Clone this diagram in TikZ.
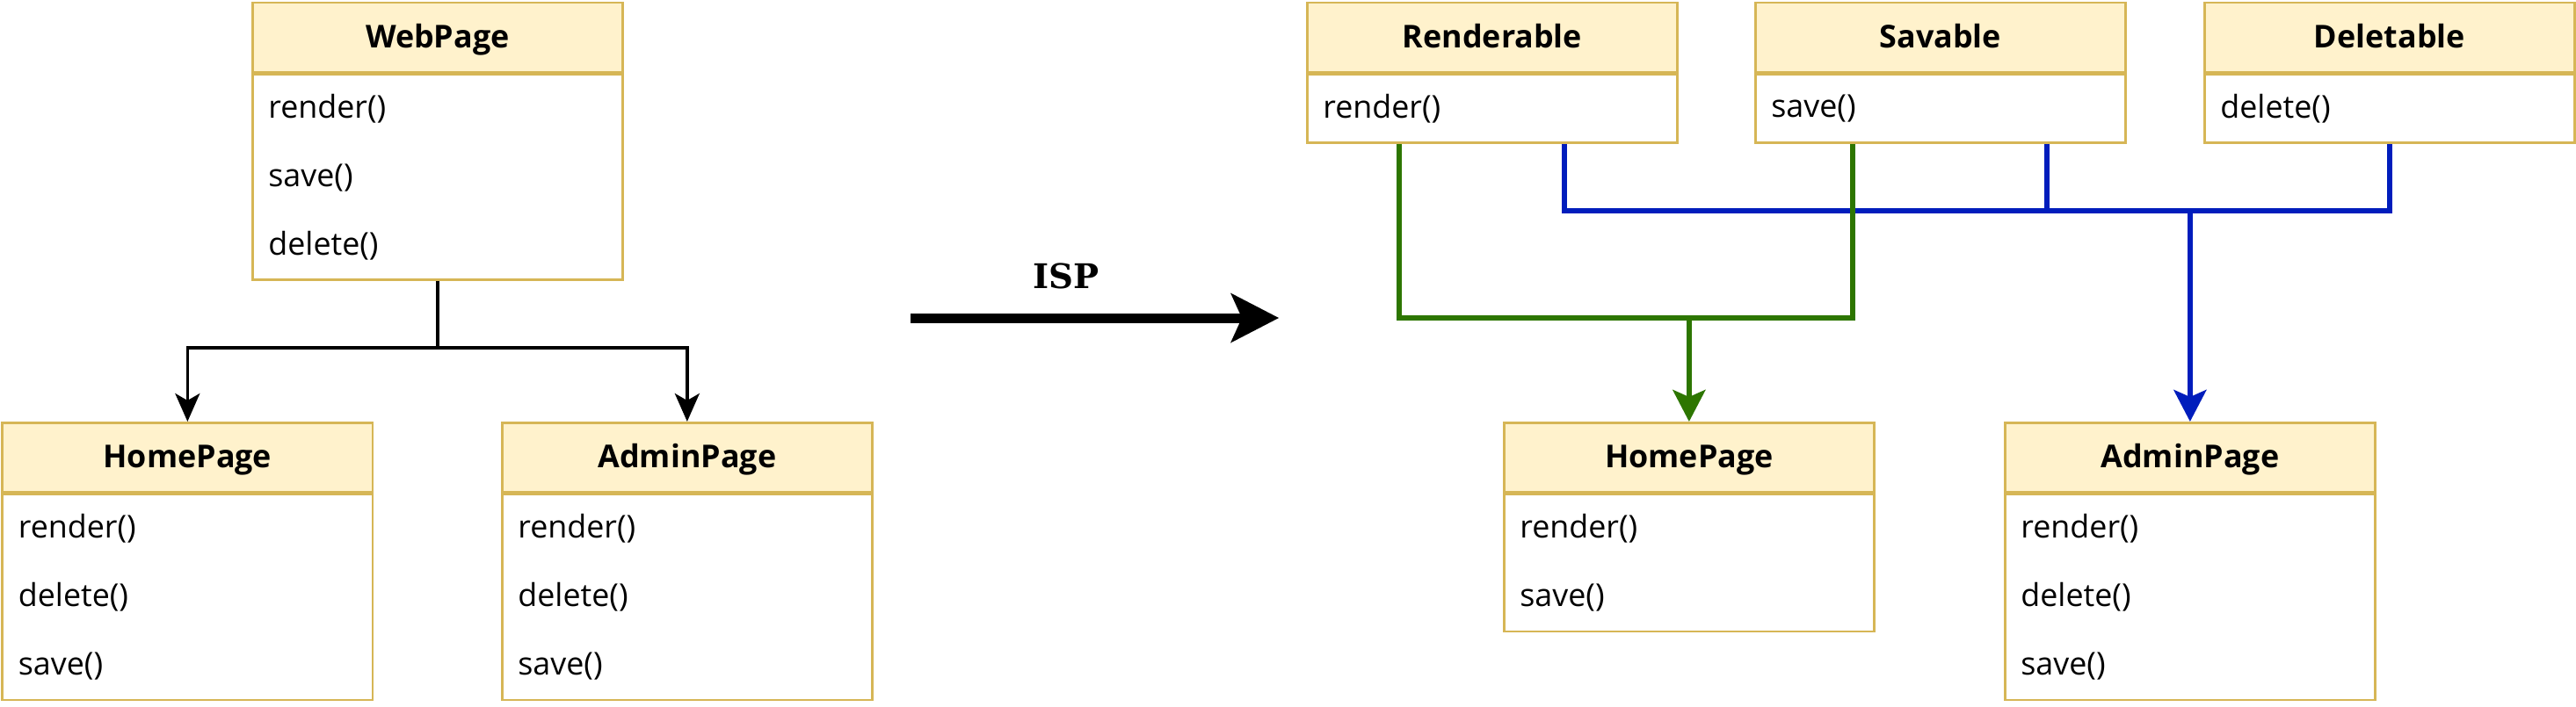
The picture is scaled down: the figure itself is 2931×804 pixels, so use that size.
\documentclass[tikz,border=0pt]{standalone}
\usepackage{fontspec}
\setmainfont{Open Sans}
\newfontfamily\ispfont{DejaVu Serif}
\usetikzlibrary{arrows.meta,calc}
\definecolor{ISPFill}{HTML}{FFF2CC}
\definecolor{ISPLine}{HTML}{D6B656}
\definecolor{ISPGreen}{HTML}{2D7600}
\definecolor{ISPBlue}{HTML}{001DBC}
\tikzset{
  classhead/.style={draw=ISPLine,fill=ISPFill,line width=.27mm,minimum width=42.1mm,minimum height=7.9mm,
    inner sep=0pt,text height=3mm,text depth=.6mm,anchor=north west,font=\bfseries\fontsize{10.2pt}{12pt}\selectfont},
  members/.style={draw=ISPLine,fill=white,line width=.27mm,minimum width=42.1mm,text width=38.5mm,
    inner xsep=1.8mm,inner ysep=0pt,align=left,anchor=north west,font=\fontsize{10.2pt}{22.2pt}\selectfont},
  inherit/.style={line width=.35mm,-{Stealth[length=3.2mm,width=2.8mm,inset=.8mm]}},
  greenline/.style={ISPGreen,line width=.6mm},
  blueline/.style={ISPBlue,line width=.6mm},
  bigtip/.style={-{Stealth[length=3.6mm,width=3.7mm,inset=.8mm]}}
}
\begin{document}
\begin{tikzpicture}[x=0.1mm,y=-0.1mm]
\path[use as bounding box] (0,0) rectangle (2931,804);
% before
\node[classhead] (webpage) at (286,1.5) {WebPage};
\node[members,minimum height=23.4mm] (webpageBody) at (webpage.south west) {render()\\save()\\delete()};
\node[classhead] (homeL) at (1.5,480) {HomePage};
\node[members,minimum height=23.4mm] (homeLBody) at (homeL.south west) {render()\\delete()\\save()};
\node[classhead] (adminL) at (570,480) {AdminPage};
\node[members,minimum height=23.4mm] (adminLBody) at (adminL.south west) {render()\\delete()\\save()};
\coordinate (fork) at (webpageBody.south |- 0,396);
\draw[line width=.35mm] (webpageBody.south) -- (fork);
\draw[inherit] (fork) -| (homeL.north);
\draw[inherit] (fork) -| (adminL.north);
% ISP
\node[font=\ispfont\bfseries\fontsize{11pt}{13pt}\selectfont] (isp) at (1213,314) {ISP};
\coordinate (ispStart) at (1036,362);
\coordinate (ispEnd) at (1455,362);
\draw[line width=1.1mm,-{Stealth[length=5.5mm,width=5.7mm,inset=1.3mm,line width=0pt]}] (ispStart) -- (ispEnd);
% after
\node[classhead] (renderable) at (1486,1.5) {Renderable};
\node[members,minimum height=7.8mm] (renderableBody) at (renderable.south west) {render()};
\node[classhead] (savable) at (1996,1.5) {Savable};
\node[members,minimum height=7.8mm] (savableBody) at (savable.south west) {save()};
\node[classhead] (deletable) at (2507,1.5) {Deletable};
\node[members,minimum height=7.8mm] (deletableBody) at (deletable.south west) {delete()};
\node[classhead] (homeR) at (1710,480) {HomePage};
\node[members,minimum height=15.6mm] (homeRBody) at (homeR.south west) {render()\\save()};
\node[classhead] (adminR) at (2280,480) {AdminPage};
\node[members,minimum height=23.4mm] (adminRBody) at (adminR.south west) {render()\\delete()\\save()};
\coordinate (blueBus) at (adminR.north |- 0,240);
\coordinate (rendBlue) at ($(renderableBody.south west)!.694!(renderableBody.south east)$);
\coordinate (savBlue) at ($(savableBody.south west)!.786!(savableBody.south east)$);
\draw[blueline] (rendBlue) |- (blueBus) -| (deletableBody.south);
\draw[blueline] (savBlue) -- (savBlue |- blueBus);
\draw[blueline,bigtip] (blueBus) -- (adminR.north);
\coordinate (greenBus) at (homeR.north |- 0,362);
\coordinate (rendGreen) at ($(renderableBody.south west)!.25!(renderableBody.south east)$);
\coordinate (savGreen) at ($(savableBody.south west)!.264!(savableBody.south east)$);
\draw[greenline] (rendGreen) |- (greenBus) -| (savGreen);
\draw[greenline,bigtip] (greenBus) -- (homeR.north);
\end{tikzpicture}
\end{document}
